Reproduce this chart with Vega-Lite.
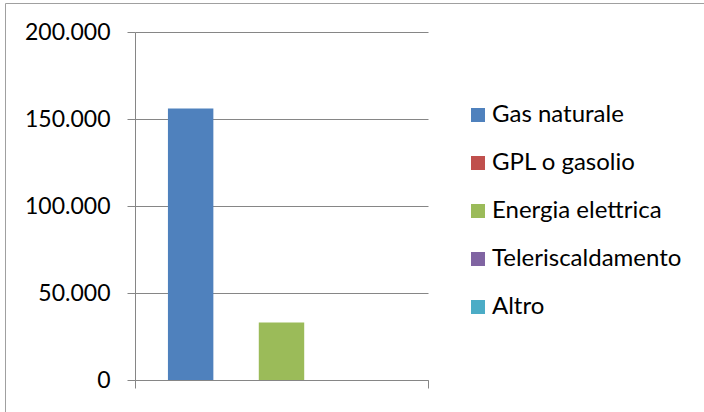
{
  "$schema": "https://vega.github.io/schema/vega-lite/v6.json",
  "width": 699,
  "height": 409,
  "autosize": "none",
  "padding": {"left": 5, "top": 3, "right": 0, "bottom": 0},
  "background": "white",
  "config": {
    "view": {"stroke": "#a0a0a0", "strokeWidth": 1},
    "font": "Lato"
  },
  "data": {
    "values": [
      {"gruppo": "Totale", "fonte": "Gas naturale", "valore": 156000},
      {"gruppo": "Totale", "fonte": "GPL o gasolio", "valore": 0},
      {"gruppo": "Totale", "fonte": "Energia elettrica", "valore": 33000},
      {"gruppo": "Totale", "fonte": "Teleriscaldamento", "valore": 0},
      {"gruppo": "Totale", "fonte": "Altro", "valore": 0}
    ]
  },
  "mark": {"type": "bar"},
  "encoding": {
    "x": {
      "field": "gruppo",
      "type": "nominal",
      "scale": {"range": [130, 423], "paddingInner": 0, "paddingOuter": 0},
      "axis": {
        "title": null,
        "labels": false,
        "orient": "bottom",
        "offset": -32,
        "bandPosition": 1,
        "tickExtra": true,
        "tickSize": 8,
        "tickColor": "#868686",
        "domainColor": "#868686",
        "grid": false
      }
    },
    "xOffset": {
      "field": "fonte",
      "type": "nominal",
      "scale": {
        "domain": ["Gas naturale", "GPL o gasolio", "Energia elettrica", "Teleriscaldamento", "Altro"],
        "paddingInner": 0,
        "paddingOuter": 0.725
      }
    },
    "y": {
      "field": "valore",
      "type": "quantitative",
      "scale": {"domain": [0, 200000], "range": [377, 29], "nice": false, "zero": true},
      "axis": {
        "title": null,
        "orient": "left",
        "offset": -130,
        "values": [0, 50000, 100000, 150000, 200000],
        "labelExpr": "replace(format(datum.value, ','), ',', '.')",
        "labelFont": "Lato",
        "labelFontSize": 23,
        "labelColor": "#000000",
        "labelPadding": 17,
        "tickSize": 8,
        "tickColor": "#868686",
        "domainColor": "#868686",
        "grid": true,
        "gridColor": "#868686",
        "gridWidth": 1
      }
    },
    "color": {
      "field": "fonte",
      "type": "nominal",
      "scale": {
        "domain": ["Gas naturale", "GPL o gasolio", "Energia elettrica", "Teleriscaldamento", "Altro"],
        "range": ["#4F81BD", "#C0504D", "#9BBB59", "#8064A2", "#4BACC6"]
      },
      "legend": {
        "title": null,
        "orient": "none",
        "legendX": 461,
        "legendY": 100,
        "padding": 0,
        "symbolType": "square",
        "symbolSize": 196,
        "symbolStrokeWidth": 0,
        "symbolOpacity": 1,
        "labelFont": "Lato",
        "labelFontSize": 24,
        "labelColor": "#000000",
        "labelOffset": 2,
        "rowPadding": 24,
        "labelLimit": 300
      }
    }
  }
}
